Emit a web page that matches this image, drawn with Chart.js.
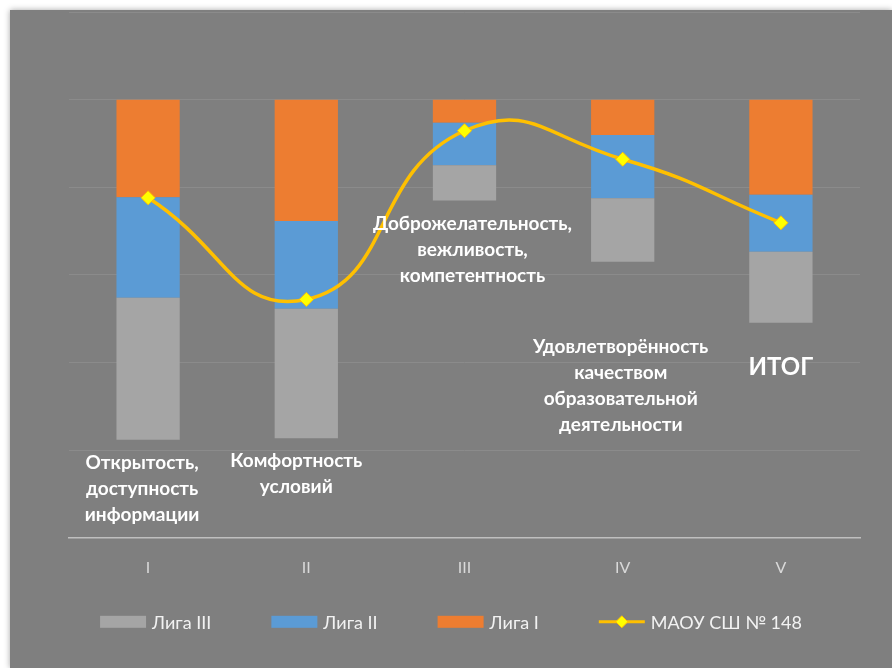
<!DOCTYPE html>
<html>
<head>
<meta charset="utf-8">
<script src="https://cdn.jsdelivr.net/npm/chart.js@4"></script>
<style>
  body { margin: 0; background: #fff; }
  #wrap {
    position: absolute; left: 10px; top: 10px;
    width: 882px; height: 658px;
    background: #7f7f7f;
    box-shadow: 0 0 6px rgba(0, 0, 0, 0.35);
  }
</style>
</head>
<body>
<div id="wrap"><canvas id="leagueChart" width="882" height="658"></canvas></div>
<script>
const categories = ['I', 'II', 'III', 'IV', 'V'];
// floating bars: bottom of Лига III, then the upper edge of each segment (%)
const ligaIIIFrom = [22.4, 22.7, 77.0, 63.0, 49.1];
const ligaIIITo = [54.8, 52.3, 85.0, 77.5, 65.3];
const ligaIITo = [77.7, 72.3, 94.7, 91.9, 78.3];
const ligaITo = [100, 100, 100, 100, 100];
const schoolValues = [77.6, 54.4, 92.9, 86.4, 71.9];
const categoryNotes = [
    ['Открытость,', 'доступность', 'информации'],
    ['Комфортность', 'условий'],
    ['Доброжелательность,', 'вежливость,', 'компетентность'],
    ['Удовлетворённость', 'качеством', 'образовательной', 'деятельности'],
    ['ИТОГ']
];
const legendNames = ['Лига III', 'Лига II', 'Лига I', 'МАОУ СШ № 148'];

const FONT = 'Lato, "Open Sans", sans-serif';
const colors = { III: '#a5a5a5', II: '#5b9bd5', I: '#ed7d31', line: '#ffc000', marker: '#ffff00' };

// text under / near each bar
const notesPlugin = {
    id: 'notes',
    afterDatasetsDraw(chart) {
        const ctx = chart.ctx;
        const x = chart.scales.x, y = chart.scales.y;
        const dx = [-6, -10, 8, -2, 0];
        const dy = [23, 23, 23, 85, 45];
        ctx.save();
        ctx.fillStyle = '#ffffff';
        ctx.textAlign = 'center';
        ctx.textBaseline = 'middle';
        categoryNotes.forEach((lines, i) => {
            const cx = x.getPixelForValue(i) + dx[i];
            const cy = y.getPixelForValue(ligaIIIFrom[i]) + dy[i];
            ctx.font = (i === 4 ? 'bold 24px ' : 'bold 19px ') + FONT;
            lines.forEach((t, k) => ctx.fillText(t, cx, cy + k * 26));
        });
        ctx.restore();
    }
};

// legend with a line + diamond sample for the school series
const legendPlugin = {
    id: 'customLegend',
    afterDraw(chart) {
        const ctx = chart.ctx;
        const y = chart.chartArea.bottom + 84;
        const swatchW = 46, gap = 6, spacing = 60;
        ctx.save();
        ctx.font = '18px ' + FONT;
        const widths = legendNames.map(t => swatchW + gap + ctx.measureText(t).width);
        const total = widths.reduce((a, b) => a + b, 0) + spacing * (widths.length - 1);
        let x = chart.width / 2 - total / 2;
        legendNames.forEach((name, i) => {
            if (i < 3) {
                ctx.fillStyle = [colors.III, colors.II, colors.I][i];
                ctx.fillRect(x, y - 6, swatchW, 12);
            } else {
                ctx.strokeStyle = colors.line;
                ctx.lineWidth = 3;
                ctx.beginPath();
                ctx.moveTo(x, y);
                ctx.lineTo(x + swatchW, y);
                ctx.stroke();
                const mx = x + swatchW / 2;
                ctx.beginPath();
                ctx.moveTo(mx, y - 6); ctx.lineTo(mx + 6, y); ctx.lineTo(mx, y + 6); ctx.lineTo(mx - 6, y);
                ctx.closePath();
                ctx.fillStyle = colors.marker;
                ctx.fill();
                ctx.lineWidth = 1;
                ctx.stroke();
            }
            ctx.fillStyle = '#f2f2f2';
            ctx.textAlign = 'left';
            ctx.textBaseline = 'middle';
            ctx.fillText(name, x + swatchW + gap, y + 1);
            x += widths[i] + spacing;
        });
        ctx.restore();
    }
};

const ctx = document.getElementById('leagueChart').getContext('2d');
const leagueChart = new Chart(ctx, {
    type: 'bar',
    data: {
        labels: categories,
        datasets: [{
            type: 'line',
            label: legendNames[3],
            data: schoolValues,
            order: -1,
            borderColor: colors.line,
            borderWidth: 3.5,
            tension: 0.5,
            pointStyle: 'rectRot',
            pointRadius: 7,
            pointBackgroundColor: colors.marker,
            pointBorderColor: colors.line,
            pointBorderWidth: 1
        }, {
            label: legendNames[0],
            data: categories.map((c, i) => [ligaIIIFrom[i], ligaIIITo[i]]),
            backgroundColor: colors.III,
            grouped: false
        }, {
            label: legendNames[1],
            data: categories.map((c, i) => [ligaIIITo[i], ligaIITo[i]]),
            backgroundColor: colors.II,
            grouped: false
        }, {
            label: legendNames[2],
            data: categories.map((c, i) => [ligaIITo[i], ligaITo[i]]),
            backgroundColor: colors.I,
            grouped: false
        }]
    },
    options: {
        responsive: false,
        animation: false,
        devicePixelRatio: 1,
        layout: { autoPadding: false, padding: { left: 59, right: 32, top: 2, bottom: 71 } },
        datasets: { bar: { barPercentage: 0.4, categoryPercentage: 1.0 } },
        scales: {
            x: {
                grid: { display: false, drawTicks: false },
                border: { color: '#bfbfbf', width: 1.5 },
                ticks: { color: '#d9d9d9', padding: 20, font: { family: FONT, size: 16 } }
            },
            y: {
                min: 0,
                max: 120,
                ticks: { display: false, stepSize: 20 },
                grid: { color: '#8b8b8b', drawTicks: false },
                border: { display: false }
            }
        },
        plugins: {
            legend: { display: false },
            tooltip: { enabled: false }
        }
    },
    plugins: [notesPlugin, legendPlugin]
});
</script>
</body>
</html>
